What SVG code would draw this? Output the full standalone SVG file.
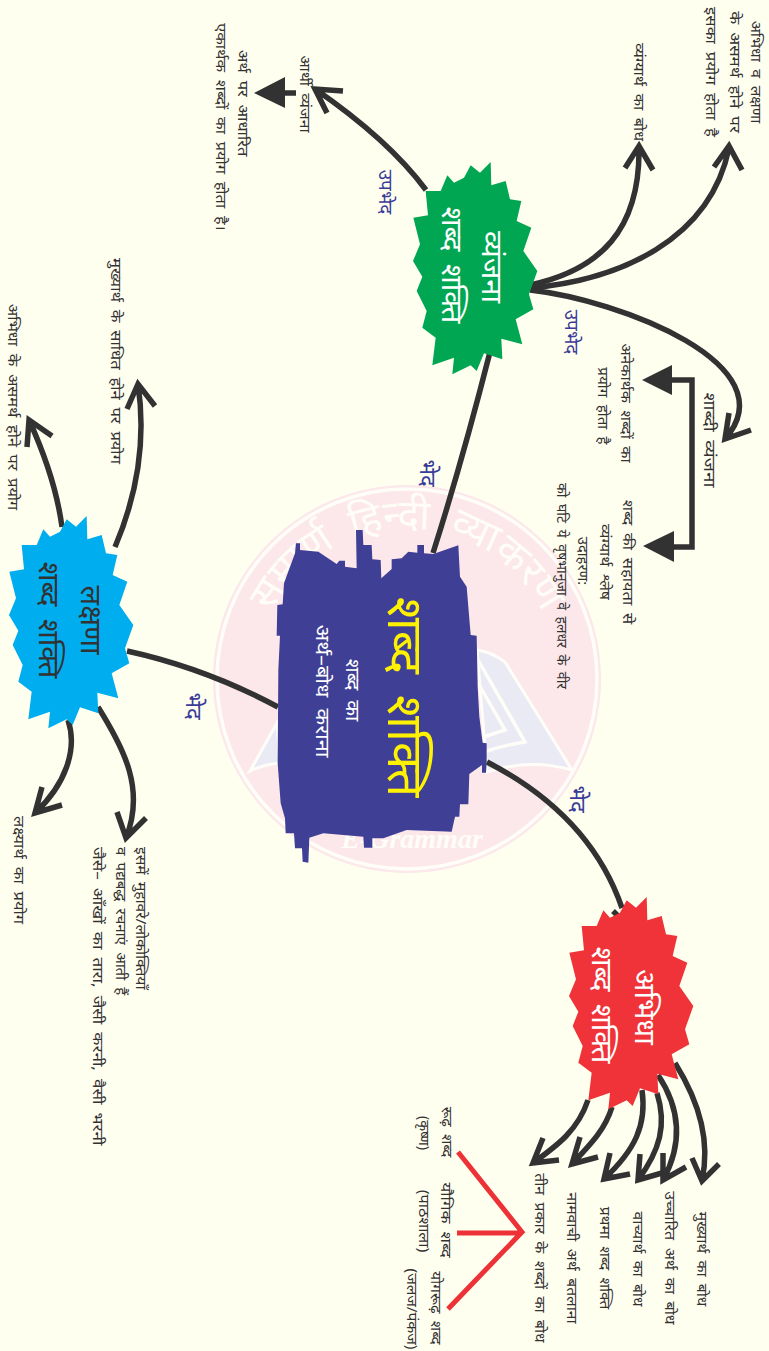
<svg xmlns="http://www.w3.org/2000/svg" xmlns:xlink="http://www.w3.org/1999/xlink" width="769" height="1351" viewBox="0 0 769 1351">
<style>
text{font-family:"Noto Sans","Noto Sans Devanagari","Lohit Devanagari","DejaVu Sans","Liberation Sans",sans-serif;text-anchor:middle}
.t{font-size:14px;fill:#333233;word-spacing:3px}
.s{text-anchor:start}
.lab{font-size:19px;fill:#3b3b98}
.lb2{font-size:22px;fill:#3b3b98}
.big{font-size:29px;word-spacing:5px}
.w{fill:#fff}
.c{fill:none;stroke:#333233;stroke-width:5.5}
.r{fill:none;stroke:#ed3237;stroke-width:5}
.wm{fill:none;stroke:#fffdf7;stroke-width:3.5}
.bk{fill:#e9eaf4;stroke:#fffdf7;stroke-width:3}
</style>
<defs>
<polygon id="star" transform="scale(.33333)" points="200,28 228,50 260,18 262,88 305,75 318,130 352,135 338,195 382,215 358,285 400,345 375,415 388,460 335,490 355,565 292,548 295,610 240,592 218,645 200,628 145,655 150,605 85,628 95,545 55,515 68,465 38,405 55,362 27,315 48,265 28,185 72,178 65,105 110,105 130,58 150,80 180,65"/>
<path id="arc" d="M262 722A151 151 0 1 1 552 722"/>
</defs>
<rect width="769" height="1351" fill="#fffff0"/>
<g id="watermark">
<circle cx="407" cy="679" r="194" fill="#fce8ea"/>
<circle class="wm" cx="407" cy="679" r="190"/>
<path class="bk" d="M477 650Q492 652 505 662L572 770Q530 758 487 772Z"/>
<path class="wm" d="M478 660L525 742Q500 746 485 752M478 683L505 730L483 737"/>
<path class="bk" d="M277 723L250 771Q265 764 280 763Z"/>
<text font-size="41" word-spacing="8" style="fill:#fffdf7"><textPath xlink:href="#arc" href="#arc" startOffset="50%">सम्पूर्ण हिन्दी व्याकरण</textPath></text>
<text x="412" y="848" font-size="28" font-weight="bold" font-style="italic" style="font-family:'Liberation Serif',serif;fill:#fffdf7">E-Grammar</text>
</g>
<g id="connectors">
<path class="c" d="M433 553Q462 462 490 352"/>
<path class="c" d="M278 707Q205 668 127 651"/>
<path class="c" d="M487 762Q590 815 622 908M613 911L620 918"/>
<path class="c" d="M675 1063C695 1095 712 1135 702 1180M692 1158L702 1181L719 1164"/>
<path class="c" d="M658 1075C678 1105 685 1140 663 1180M663 1153L663 1180L686 1167"/>
<path class="c" d="M657 1093C667 1125 660 1150 638 1180M640 1154L638 1180L662 1173"/>
<path class="c" d="M642 1090C647 1125 635 1150 604 1179M610 1153L604 1179L630 1174"/>
<path class="c" d="M612 1107C605 1130 590 1145 572 1164M580 1137L572 1164L598 1157"/>
<path class="c" d="M588 1100C578 1130 558 1145 533 1163M543 1138L533 1163L559 1160"/>
<path class="r" d="M458 1152L522 1232L448 1309M457 1233H522"/>
<path class="c" d="M68 720C78 750 65 785 35 813M42 787L35 813L62 805"/>
<path class="c" d="M98 707C125 750 145 790 126 838M117 812L126 838L146 818"/>
<path class="c" d="M62 527C57 490 45 455 29 420M27 447L29 420L52 436"/>
<path class="c" d="M115 547C135 500 147 445 138 384M127 409L138 384L155 406"/>
<path class="c" d="M530 285C600 270 640 230 639 148M625 168L639 146L653 170"/>
<path class="c" d="M530 288C620 280 710 240 729 148M714 167L729 146L742 170"/>
<path class="c" d="M530 290C620 300 790 365 725 439M729 413L725 439L751 430"/>
<path class="c" d="M426 190C400 155 360 120 315 89M343 91L315 89L327 113"/>
<path class="c" d="M296 93H280"/>
<polygon points="254,93 285,77 285,108" fill="#333233"/>
<path class="c" d="M670 380H692V547H670"/>
<polygon points="642,380 672,365 672,395" fill="#333233"/>
<polygon points="643,546 674,531 674,562" fill="#333233"/>
</g>
<g id="center">
<polygon transform="translate(210 470) scale(.33333)" fill="#3f3f96" points="258,220 270,220 270,240 325,245 380,282 388,272 405,272 405,290 440,295 438,180 458,180 460,225 485,225 487,268 512,270 514,325 545,297 545,268 575,265 595,245 622,248 622,225 642,225 642,250 670,252 745,226 750,320 770,350 782,495 800,497 803,650 808,740 818,818 830,820 830,878 828,908 816,908 816,885 778,912 775,1003 750,1003 748,1040 735,1040 725,1085 590,1080 520,1105 487,1105 487,1133 462,1133 460,1100 340,1090 298,1103 295,1178 278,1175 276,1135 255,1135 252,1090 227,1090 225,1045 212,1000 203,880 205,600 210,497 200,497 202,405 218,403 222,340 255,250"/>
<text transform="translate(388 697) rotate(90)" font-size="50" word-spacing="8" style="fill:#fff200">शब्द शक्ति</text>
<text transform="translate(346 690) rotate(90) scale(1.08 1)" font-size="19" word-spacing="4" class="w">शब्द का</text>
<text transform="translate(316 691) rotate(90) scale(1.14 1)" font-size="19" word-spacing="5" class="w">अर्थ–बोध कराना</text>
</g>
<g id="vyanjana">
<use xlink:href="#star" href="#star" transform="translate(404 156)" fill="#00a651"/>
<text class="big w" transform="translate(482 267) rotate(90)">व्यंजना</text>
<text class="big w" transform="translate(442 265) rotate(90)">शब्द शक्ति</text>
</g>
<g id="lakshana">
<use xlink:href="#star" href="#star" transform="translate(0 510)" fill="#00aeef"/>
<text class="big" fill="#333233" transform="translate(81 620) rotate(90)">लक्षणा</text>
<text class="big" fill="#333233" transform="translate(39 620) rotate(90)">शब्द शक्ति</text>
</g>
<g id="abhidha">
<use xlink:href="#star" href="#star" transform="translate(560 891)" fill="#ef3338"/>
<text class="big w" transform="translate(635 1007) rotate(90)">अभिधा</text>
<text class="big w" transform="translate(592 1005) rotate(90)">शब्द शक्ति</text>
</g>
<g id="labels">
<text class="lab" transform="translate(379 192) rotate(90)">उपभेद</text>
<text class="lab" transform="translate(565 332) rotate(90)">उपभेद</text>
<text class="lb2" transform="translate(420 473) rotate(90)">भेद</text>
<text class="lb2" transform="translate(186 706) rotate(90)">भेद</text>
<text class="lb2" transform="translate(570 799) rotate(90)">भेद</text>
</g>
<g id="texts">
<text class="t" transform="translate(751 72) rotate(90) scale(1.13 1)">अभिधा व लक्षणा</text>
<text class="t" transform="translate(730 72) rotate(90) scale(1.21 1)">के असमर्थ होने पर</text>
<text class="t" transform="translate(706 72) rotate(90) scale(1.2 1)">इसका प्रयोग होता है</text>
<text class="t" transform="translate(634 92) rotate(90) scale(1.15 1)">व्यंग्यार्थ का बोध</text>
<text class="t" transform="translate(300 94) rotate(90) scale(1.13 1)">आर्थी व्यंजना</text>
<text class="t" transform="translate(238 103) rotate(90) scale(1.18 1)">अर्थ पर आधारित</text>
<text class="t" transform="translate(216 127) rotate(90) scale(1.17 1)">एकार्थक शब्दों का प्रयोग होता है।</text>
<text class="t" style="font-size:16px" transform="translate(704 440) rotate(90) scale(1.19 1)">शाब्दी व्यंजना</text>
<text class="t" transform="translate(621 403) rotate(90) scale(1.13 1)">अनेकार्थक शब्दों का</text>
<text class="t" transform="translate(598 406) rotate(90) scale(1.09 1)">प्रयोग होता है</text>
<text class="t" transform="translate(623 562) rotate(90) scale(1.18 1)">शब्द की सहायता से</text>
<text class="t" transform="translate(600 562) rotate(90) scale(1.125 1)">व्यंग्यार्थ श्लेष</text>
<text class="t" transform="translate(578 561) rotate(90) scale(1.06 1)">उदाहरण:</text>
<text class="t" transform="translate(557 586) rotate(90)">को घटि ये वृषभानुजा वे हलधर के वीर</text>
<text class="t" transform="translate(111 361) rotate(90) scale(1.18 1)">मुख्यार्थ के साधित होने पर प्रयोग</text>
<text class="t" transform="translate(8 407) rotate(90) scale(1.16 1)">अभिधा के असमर्थ होने पर प्रयोग</text>
<text class="t" transform="translate(14 870) rotate(90) scale(1.18 1)">लक्ष्यार्थ का प्रयोग</text>
<text class="t s" transform="translate(136 847) rotate(90) scale(1.115 1)">इसमें मुहावरे/लोकोक्तियाँ</text>
<text class="t s" transform="translate(116 847) rotate(90) scale(1.08 1)">व पद्यबद्ध रचनाएं आती हैं</text>
<text class="t s" transform="translate(93 847) rotate(90) scale(1.22 1)">जैसे– आँखों का तारा, जैसी करनी, वैसी भरनी</text>
<text class="t" transform="translate(697 1259) rotate(90) scale(1.11 1)">मुख्यार्थ का बोध</text>
<text class="t" transform="translate(665 1258) rotate(90) scale(1.14 1)">उच्चारित अर्थ का बोध</text>
<text class="t" transform="translate(633 1259) rotate(90) scale(1.11 1)">वाच्यार्थ का बोध</text>
<text class="t" transform="translate(600 1258) rotate(90) scale(1.11 1)">प्रथमा शब्द शक्ति</text>
<text class="t" transform="translate(567 1258) rotate(90) scale(1.12 1)">नामवाची अर्थ बतलाना</text>
<text class="t" transform="translate(535 1258) rotate(90) scale(1.12 1)">तीन प्रकार के शब्दों का बोध</text>
<text class="t" transform="translate(442 1132) rotate(90) scale(1.08 1)">रूढ़ शब्द</text>
<text class="t" transform="translate(419 1133) rotate(90)">(कृष्ण)</text>
<text class="t" transform="translate(441 1220) rotate(90) scale(1.21 1)">यौगिक शब्द</text>
<text class="t" transform="translate(419 1221) rotate(90) scale(1.15 1)">(पाठशाला)</text>
<text class="t" transform="translate(431 1308) rotate(90) scale(1.1 1)">योगरूढ़ शब्द</text>
<text class="t" transform="translate(407 1309) rotate(90) scale(1.11 1)">(जलज/पंकज)</text>
</g>
</svg>
